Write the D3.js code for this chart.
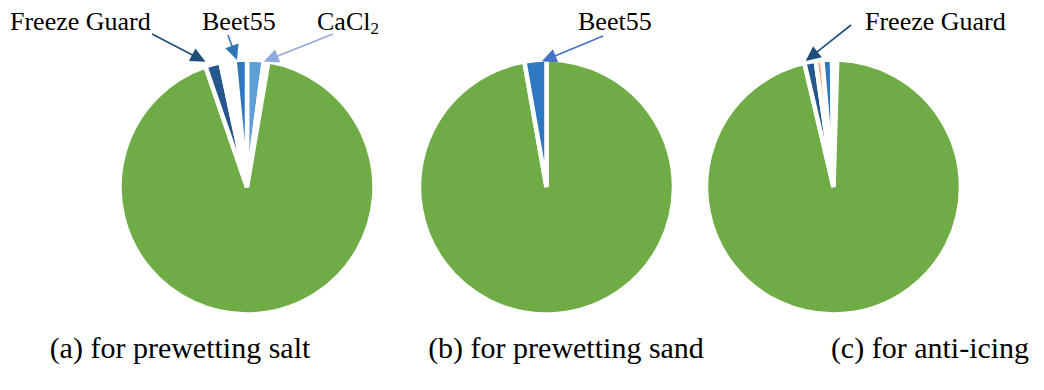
<!DOCTYPE html>
<html>
<head>
<meta charset="utf-8">
<script src="https://cdn.jsdelivr.net/npm/d3@7/dist/d3.min.js"></script>
<style>
  html, body { margin: 0; padding: 0; background: #fff; }
  svg { display: block; }
</style>
</head>
<body>
<svg id="chart" width="1044" height="390"></svg>
<script>
// Mix shares (percent of the full circle), listed clockwise from 12 o'clock.
const saltCategories = ["CaCl2", "Blank", "Salt brine", "Freeze Guard", "Blank", "Beet55"];
const saltShares     = [2.11, 0.58, 92.03, 1.94, 1.78, 1.56];

const sandCategories = ["Salt brine", "Beet55"];
const sandShares     = [97.22, 2.78];

const iceCategories  = ["Blank", "Salt brine", "Freeze Guard", "Other additive", "Beet55", "Blank"];
const iceShares      = [0.47, 95.86, 1.44, 0.83, 1.22, 0.18];

const captions = ["(a) for prewetting salt", "(b) for prewetting sand", "(c) for anti-icing"];

const categoryColors = {
  "Salt brine": "#6fac46",
  "Freeze Guard": "#25578c",
  "Beet55": "#2e78c2",
  "CaCl2": "#5d9dd8",
  "Other additive": "#f2a772",
  "Blank": "#ffffff"
};

const serif = "'Liberation Serif', 'Times New Roman', Tinos, 'DejaVu Serif', serif";
const svg = d3.select("#chart");

const pies = [
  { cats: saltCategories, vals: saltShares, cx: 247,   cy: 187, capX: 180 },
  { cats: sandCategories, vals: sandShares, cx: 546.5, cy: 187, capX: 566 },
  { cats: iceCategories,  vals: iceShares,  cx: 833.5, cy: 187, capX: 930 }
];

const outerR = 127.5;
const pieLayout = d3.pie().sort(null).value(d => d.v);
const arc = d3.arc().innerRadius(0).outerRadius(outerR);

const arcsByPie = pies.map((p, i) => {
  const rows = p.cats.map((c, j) => ({ c, v: p.vals[j] }));
  const arcs = pieLayout(rows);
  const g = svg.append("g").attr("transform", `translate(${p.cx},${p.cy})`);
  g.selectAll("path")
    .data(arcs)
    .join("path")
    .attr("d", arc)
    .attr("fill", d => categoryColors[d.data.c])
    .attr("stroke", "#fff")
    .attr("stroke-width", 4.5)
    .attr("stroke-linejoin", "miter");
  svg.append("text")
    .attr("x", p.capX)
    .attr("y", 358)
    .attr("text-anchor", "middle")
    .attr("font-family", serif)
    .attr("font-size", 30)
    .attr("fill", "#000")
    .text(captions[i]);
  return arcs;
});

// Callout labels with arrows pointing at the small slices.
const callouts = [
  { pie: 0, cat: "Freeze Guard", frac: 0.1, r: 132,   label: "Freeze Guard", tx: 10,  tail: [152, 34], color: "#1f4e79" },
  { pie: 0, cat: "Beet55",       frac: 0.2, r: 127.5, label: "Beet55",       tx: 202, tail: [228, 35], color: "#2e75b6" },
  { pie: 0, cat: "CaCl2",        frac: 1.0, r: 126.5, label: "CaCl", sub: "2", tx: 317, tail: [333, 34], color: "#8faadc" },
  { pie: 1, cat: "Beet55",       frac: 0.78, r: 125.5, label: "Beet55",      tx: 578, tail: [603, 36], color: "#4472c4" },
  { pie: 2, cat: "Freeze Guard", frac: 0.15, r: 129, label: "Freeze Guard", tx: 865, tail: [851, 25], color: "#1f4e79" }
];

callouts.forEach(c => {
  const p = pies[c.pie];
  const a = arcsByPie[c.pie].find(d => d.data.c === c.cat);
  const ang = a.startAngle + c.frac * (a.endAngle - a.startAngle);
  const tip = [p.cx + c.r * Math.sin(ang), p.cy - c.r * Math.cos(ang)];
  const [x0, y0] = c.tail;
  const dx = tip[0] - x0, dy = tip[1] - y0;
  const len = Math.hypot(dx, dy);
  const ux = dx / len, uy = dy / len;
  const headL = 15, headW = 7;
  const bx = tip[0] - ux * headL, by = tip[1] - uy * headL;
  svg.append("line")
    .attr("x1", x0).attr("y1", y0)
    .attr("x2", bx + ux * 2).attr("y2", by + uy * 2)
    .attr("stroke", c.color).attr("stroke-width", 1.6);
  svg.append("path")
    .attr("d", `M${tip[0]},${tip[1]}L${bx - uy * headW},${by + ux * headW}L${bx + uy * headW},${by - ux * headW}Z`)
    .attr("fill", c.color);
  const t = svg.append("text")
    .attr("x", c.tx).attr("y", 30)
    .attr("font-family", serif)
    .attr("font-size", 26)
    .attr("fill", "#000")
    .text(c.label);
  if (c.sub) {
    t.append("tspan").attr("font-size", 17).attr("dy", 4).text(c.sub);
  }
});
</script>
</body>
</html>
